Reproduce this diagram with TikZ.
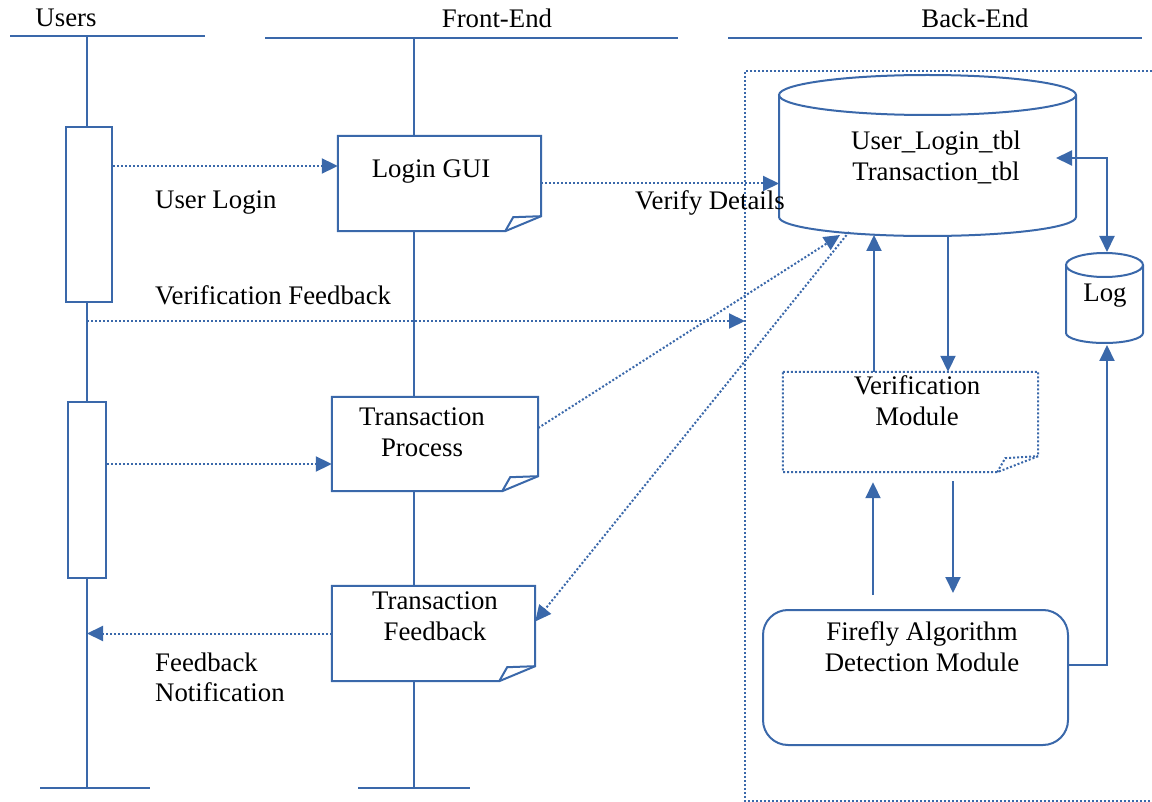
\documentclass[tikz,border=0pt]{standalone}
\usepackage{fontspec}
\setmainfont{Liberation Serif}
\usetikzlibrary{arrows.meta,calc}
\definecolor{lb}{RGB}{58,104,170}
\newcommand\notebox[2][ln]{%
  \draw[#1] (#2.north west) -- (#2.north east) -- ($(#2.south east)+(0,-15)$) -- ($(#2.south east)+(-36,0)$) -- (#2.south west) -- cycle;
  \draw[#1] ($(#2.south east)+(-36,0)$) -- ($(#2.south east)+(-28,-14)$) -- ($(#2.south east)+(0,-15)$);}
\begin{document}
\begin{tikzpicture}[x=1pt,y=-1pt,
  ln/.style={color=lb,line width=2pt},
  dt/.style={color=lb,line width=2pt,dash pattern=on 2pt off 2pt},
  tip/.style={-{Triangle[length=16pt,width=15pt]}},
  tt/.style={{Triangle[length=16pt,width=15pt]}-{Triangle[length=16pt,width=15pt]}},
  txt/.style={font=\fontsize{26.8}{31}\selectfont, align=center, inner sep=0pt},
  ltxt/.style={font=\fontsize{26.8}{30}\selectfont, align=left, inner sep=0pt, anchor=west},
  box/.style={inner sep=0pt}]
\useasboundingbox (0,0) rectangle (1152,802);

% headers
\node[txt] (hu) at (66,18) {Users};
\draw[ln] (10,36) -- (205,36);
\node[txt] (hf) at (497,18) {Front-End};
\draw[ln] (265,38) -- (678,38);
\node[txt] (hb) at (975,18) {Back-End};
\draw[ln] (728,38) -- (1142,38);

% backend frame
\coordinate (frL) at (745,71);
\draw[dt] (1152,71) -- (745,71) -- (745,801) -- (1152,801);

% activation boxes
\node[box,draw=lb,line width=2pt,minimum width=46,minimum height=175] (a1) at (89,214.5) {};
\node[box,draw=lb,line width=2pt,minimum width=38,minimum height=176] (a2) at (87,490) {};

% users lifeline
\coordinate (ut) at (87,36);
\coordinate (ub) at (87,788);
\draw[ln] (ut) -- (ut |- a1.north);
\draw[ln] (ut |- a1.south) -- (ut |- a2.north);
\draw[ln] (ut |- a2.south) -- (ub);
\draw[ln] ($(ub)+(-47,0)$) -- ($(ub)+(63,0)$);

% front-end notes
\node[box,minimum width=203,minimum height=95] (login) at (439.5,183.5) {};
\node[box,minimum width=206,minimum height=94] (tproc) at (435,444) {};
\node[box,minimum width=203,minimum height=95] (tfb) at (433.5,633.5) {};
\notebox{login}
\notebox{tproc}
\notebox{tfb}
\node[txt] (tlogin) at (431,172) {Login GUI};
\node[txt] (ttproc) at (422,432) {Transaction\\Process};
\node[txt] (ttfb) at (435,616) {Transaction\\Feedback};

% front-end lifeline
\coordinate (ft) at (414,38);
\coordinate (fb) at (414,788);
\draw[ln] (ft) -- (ft |- login.north);
\draw[ln] (ft |- login.south) -- (ft |- tproc.north);
\draw[ln] (ft |- tproc.south) -- (ft |- tfb.north);
\draw[ln] (ft |- tfb.south) -- (fb);
\draw[ln] ($(fb)+(-56,0)$) -- ($(fb)+(56,0)$);

% database cylinder
\draw[ln] (927.5,95) ellipse [x radius=148.5, y radius=20];
\draw[ln] (779,95) -- (779,217) arc[start angle=180, end angle=0, x radius=148.5, y radius=19] -- (1076,95);
\node[txt] (tdb) at (936,157) {User\_Login\_tbl\\Transaction\_tbl};
\coordinate (dbL) at (779,183);
\coordinate (dbA) at (840,235);
\coordinate (dbB) at (849,232);
\coordinate (dbC) at (948,236);
\coordinate (dbD) at (874,235);
\coordinate (dbR) at (1056,158);

% log cylinder
\draw[ln] (1104.5,265) ellipse [x radius=38.5, y radius=12];
\draw[ln] (1066,265) -- (1066,333) arc[start angle=180, end angle=0, x radius=38.5, y radius=10] -- (1143,265);
\node[txt] (tlog) at (1105,296) {Log};
\coordinate (logT) at (1107,252);
\coordinate (logB) at (1107,345);

% verification module
\node[box,minimum width=255,minimum height=100] (vmod) at (910.5,422) {};
\draw[dt] (vmod.north west) -- (vmod.north east) -- ($(vmod.south east)+(0,-16)$) -- ($(vmod.south east)+(-41,0)$) -- (vmod.south west) -- cycle;
\draw[dt] ($(vmod.south east)+(-41,0)$) -- ($(vmod.south east)+(-33,-14)$) -- ($(vmod.south east)+(0,-16)$);
\node[txt] (tvmod) at (917,401) {Verification\\Module};

% firefly module
\node[box,draw=lb,line width=2pt,rounded corners=25pt,minimum width=305,minimum height=135] (ff) at (915.5,677.5) {};
\node[txt] (tff) at (922,647) {Firefly Algorithm\\Detection Module};

% dotted messages
\draw[dt,tip] ($(a1.east)+(0,-48.5)$) coordinate (p1) -- (p1 -| login.west);
\draw[dt,tip] (login.east) -- (login.east -| dbL);
\coordinate (vf) at (87,321);
\draw[dt,tip] (vf) -- (vf -| frL);
\draw[dt,tip] ($(tproc.east)+(0,-16)$) -- (dbA);
\draw[dt,tip] (dbB) -- ($(tfb.east)+(0,-12)$);
\draw[dt,tip] ($(a2.east)+(0,-26)$) coordinate (p2) -- (p2 -| tproc.west);
\draw[dt,tip] (tfb.west) -- (tfb.west -| ut);

% solid back-end arrows
\draw[ln,tip] (dbC) -- (dbC |- vmod.north);
\draw[ln,tip] (dbD |- vmod.north) -- (dbD);
\draw[ln,tip] ($(ff.north -| dbD)+(-1,-14)$) -- ($(vmod.south -| dbD)+(-1,10)$);
\draw[ln,tip] ($(vmod.south)+(42.5,9)$) -- ($(ff.north)+(37.5,-16)$);
\draw[ln,tip] ($(ff.east)+(0,-12.5)$) -| (logB);
\draw[ln,tt] (dbR) -| (logT);

% labels
\node[ltxt] (lul) at (155,203) {User Login};
\node[ltxt] (lvd) at (635,203) {Verify Details};
\node[ltxt] (lvf) at (155,295) {Verification Feedback};
\node[ltxt] (lfn) at (155,677) {Feedback\\Notification};
\end{tikzpicture}
\end{document}
